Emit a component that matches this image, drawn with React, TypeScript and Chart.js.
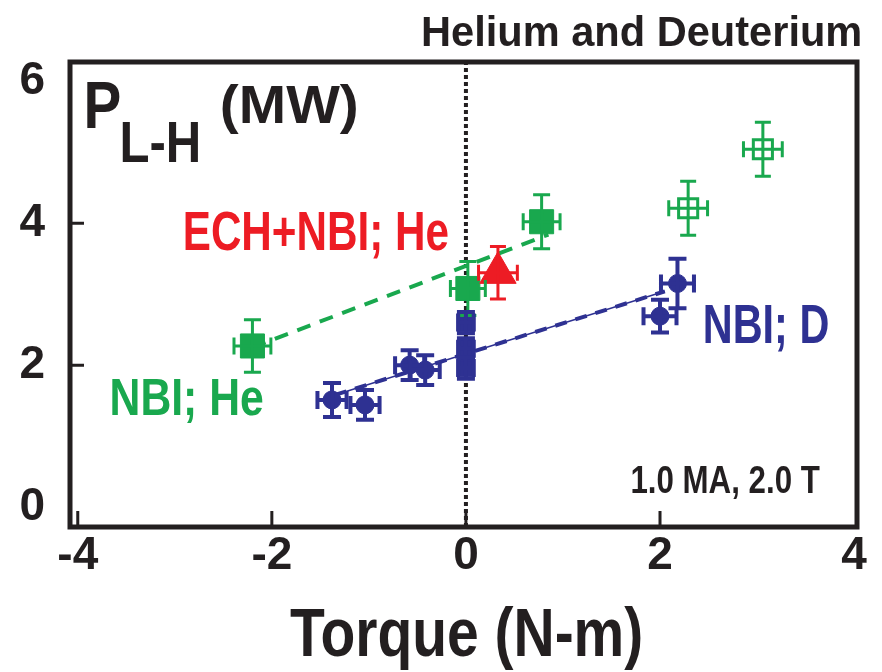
import React, { useEffect, useRef } from "react";
import { Chart, registerables } from "chart.js";

Chart.register(...registerables);

// ---- data ----
const heTorque = [-2.2, 0.02, 0.78];
const hePower = [2.27, 3.08, 4.02];
const heTorqueErr = [0.19, 0.18, 0.19];
const hePowerErr = [0.37, 0.38, 0.38];

const heOpenTorque = [2.29, 3.06];
const heOpenPower = [4.21, 5.04];
const heOpenTorqueErr = [0.2, 0.2];
const heOpenPowerErr = [0.38, 0.38];

const echTorque = [0.33];
const echPower = [3.3];
const echTorqueErr = [0.2];
const echPowerErr = [0.37];

const dTorque = [-1.38, -1.04, -0.58, -0.42, 0, 0, 0, 2.0, 2.18];
const dPower = [1.51, 1.44, 2.0, 1.93, 2.6, 2.23, 1.96, 2.69, 3.15];
const dTorqueErr = [0.15, 0.15, 0.15, 0.15, 0.08, 0.08, 0.08, 0.17, 0.17];
const dPowerErr = [0.24, 0.21, 0.21, 0.21, 0.15, 0.15, 0.15, 0.23, 0.35];

const heFitTorque = [-2.2, 0.85];
const heFitPower = [2.25, 3.84];
const dFitTorque = [-1.35, 2.05];
const dFitPower = [1.58, 3.04];

const xTicks = [-4, -2, 0, 2, 4];
const yTicks = [0, 2, 4, 6];
const X_MIN = -4.08;
const X_MAX = 4.03;
const Y_MIN = -0.28;
const Y_MAX = 6.27;

const GREEN = "#19a84e";
const BLUE = "#2e3192";
const RED = "#ed1c24";
const BLACK = "#231f20";
const FONT = '"Liberation Sans", Arial, sans-serif';

const pts = (xs: number[], ys: number[]) => xs.map((x, i) => ({ x, y: ys[i] }));

function drawInk(
  ctx: CanvasRenderingContext2D,
  text: string,
  size: number,
  color: string,
  left: number,
  baseline: number,
  inkWidth: number
) {
  ctx.save();
  ctx.font = `bold ${size}px ${FONT}`;
  ctx.textAlign = "left";
  ctx.textBaseline = "alphabetic";
  const m = ctx.measureText(text);
  const w = m.actualBoundingBoxLeft + m.actualBoundingBoxRight;
  const sx = inkWidth / w;
  ctx.translate(left, baseline);
  ctx.scale(sx, 1);
  ctx.fillStyle = color;
  ctx.fillText(text, m.actualBoundingBoxLeft, 0);
  ctx.restore();
}

const errorBarPlugin = {
  id: "errorBars",
  afterDatasetsDraw(chart: any) {
    const ctx = chart.ctx;
    const xs = chart.scales.x;
    const ys = chart.scales.y;
    chart.data.datasets.forEach((ds: any) => {
      if (!ds.errX) return;
      ctx.save();
      ctx.strokeStyle = ds.errColor;
      ctx.lineWidth = ds.errWidth;
      const cap = ds.errCap / 2;
      ds.data.forEach((p: any, i: number) => {
        const cx = xs.getPixelForValue(p.x);
        const cy = ys.getPixelForValue(p.y);
        const x0 = xs.getPixelForValue(p.x - ds.errX[i]);
        const x1 = xs.getPixelForValue(p.x + ds.errX[i]);
        const y0 = ys.getPixelForValue(p.y - ds.errY[i]);
        const y1 = ys.getPixelForValue(p.y + ds.errY[i]);
        ctx.beginPath();
        ctx.moveTo(x0, cy);
        ctx.lineTo(x1, cy);
        ctx.moveTo(cx, y0);
        ctx.lineTo(cx, y1);
        ctx.moveTo(x0, cy - cap);
        ctx.lineTo(x0, cy + cap);
        ctx.moveTo(x1, cy - cap);
        ctx.lineTo(x1, cy + cap);
        ctx.moveTo(cx - cap, y0);
        ctx.lineTo(cx + cap, y0);
        ctx.moveTo(cx - cap, y1);
        ctx.lineTo(cx + cap, y1);
        ctx.stroke();
      });
      ctx.restore();
    });
  },
};

const framePlugin = {
  id: "frame",
  afterDraw(chart: any) {
    const ctx = chart.ctx;
    const a = chart.chartArea;
    const xs = chart.scales.x;
    const ys = chart.scales.y;
    ctx.save();
    ctx.strokeStyle = BLACK;
    ctx.lineWidth = 3;
    ctx.beginPath();
    [2, 4].forEach((v) => {
      const py = ys.getPixelForValue(v);
      ctx.moveTo(a.left, py);
      ctx.lineTo(a.left + 14, py);
    });
    [-4, -2, 0, 2].forEach((v) => {
      const px = xs.getPixelForValue(v);
      ctx.moveTo(px, a.bottom);
      ctx.lineTo(px, a.bottom - 16);
    });
    ctx.stroke();
    ctx.lineWidth = 5;
    ctx.strokeRect(a.left, a.top, a.right - a.left, a.bottom - a.top);
    ctx.restore();

    drawInk(ctx, "Helium and Deuterium", 42, BLACK, 423, 46, 437);
    drawInk(ctx, "P", 67, BLACK, 87, 128, 33);
    drawInk(ctx, "L-H", 58, BLACK, 122, 162, 76);
    drawInk(ctx, "(MW)", 53, BLACK, 222, 123, 135);
    drawInk(ctx, "ECH+NBI; He", 56, RED, 185, 250, 263);
    drawInk(ctx, "NBI; He", 52, GREEN, 112, 415, 151);
    drawInk(ctx, "NBI; D", 55, BLUE, 705, 343, 123);
    drawInk(ctx, "1.0 MA, 2.0 T", 39, BLACK, 632, 493, 188);
    drawInk(ctx, "Torque (N-m)", 68, BLACK, 290, 656, 351);
  },
};

export default function App() {
  const ref = useRef<HTMLCanvasElement>(null);

  useEffect(() => {
    if (!ref.current) return;
    const chart = new Chart(ref.current, {
      type: "scatter",
      data: {
        datasets: [
          {
            label: "ECH+NBI; He",
            data: pts(echTorque, echPower),
            pointStyle: "triangle",
            pointRadius: 21,
            backgroundColor: RED,
            borderColor: RED,
            borderWidth: 1,
            errX: echTorqueErr,
            errY: echPowerErr,
            errColor: RED,
            errWidth: 3,
            errCap: 16,
          } as any,
          {
            label: "NBI; He",
            data: pts(heTorque, hePower),
            pointStyle: "rect",
            pointRadius: 17,
            backgroundColor: GREEN,
            borderColor: GREEN,
            borderWidth: 1,
            errX: heTorqueErr,
            errY: hePowerErr,
            errColor: GREEN,
            errWidth: 3,
            errCap: 17,
          } as any,
          {
            label: "NBI; He (open)",
            data: pts(heOpenTorque, heOpenPower),
            pointStyle: "rect",
            pointRadius: 13.5,
            backgroundColor: "rgba(255,255,255,0)",
            borderColor: GREEN,
            borderWidth: 3,
            errX: heOpenTorqueErr,
            errY: heOpenPowerErr,
            errColor: GREEN,
            errWidth: 3,
            errCap: 16,
          } as any,
          {
            label: "NBI; D",
            data: pts(dTorque, dPower),
            pointStyle: dTorque.map((t) => (t === 0 ? "rect" : "circle")),
            pointRadius: dTorque.map((t) => (t === 0 ? 12.5 : 9)),
            backgroundColor: BLUE,
            borderColor: BLUE,
            borderWidth: 1,
            errX: dTorqueErr,
            errY: dPowerErr,
            errColor: BLUE,
            errWidth: 4,
            errCap: 18,
          } as any,
          {
            label: "He fit",
            data: pts(heFitTorque, heFitPower),
            showLine: true,
            pointRadius: 0,
            borderColor: GREEN,
            borderWidth: 4,
            borderDash: [14, 10],
          },
          {
            label: "D fit dashes",
            data: pts(dFitTorque, dFitPower),
            showLine: true,
            pointRadius: 0,
            borderColor: BLUE,
            borderWidth: 4,
            borderDash: [12, 9],
          },
          {
            label: "D fit",
            data: pts(dFitTorque, dFitPower),
            showLine: true,
            pointRadius: 0,
            borderColor: BLUE,
            borderWidth: 1.5,
          },
          {
            label: "zero torque",
            data: [
              { x: 0, y: Y_MIN },
              { x: 0, y: Y_MAX },
            ],
            showLine: true,
            pointRadius: 0,
            borderColor: BLACK,
            borderWidth: 4,
            borderDash: [4, 3],
          },
        ],
      },
      options: {
        animation: false,
        responsive: false,
        events: [],
        layout: { padding: { top: 62, right: 25, left: 0, bottom: 0 } },
        plugins: {
          legend: { display: false },
          tooltip: { enabled: false },
        },
        scales: {
          x: {
            type: "linear",
            min: X_MIN,
            max: X_MAX,
            grid: { display: false, drawTicks: false },
            border: { display: false },
            afterBuildTicks: (s: any) => {
              s.ticks = xTicks.map((v) => ({ value: v }));
            },
            afterFit: (s: any) => {
              s.height = 145;
            },
            ticks: {
              padding: 2,
              color: BLACK,
              font: { family: FONT, size: 46, weight: "bold" },
              callback: (v: any) => String(v),
            },
          },
          y: {
            type: "linear",
            min: Y_MIN,
            max: Y_MAX,
            grid: { display: false, drawTicks: false },
            border: { display: false },
            afterBuildTicks: (s: any) => {
              s.ticks = yTicks.map((v) => ({ value: v }));
            },
            afterFit: (s: any) => {
              s.width = 70;
            },
            ticks: {
              padding: 25,
              color: BLACK,
              font: { family: FONT, size: 46, weight: "bold" },
              callback: (v: any) => String(v),
            },
          },
        },
      },
      plugins: [errorBarPlugin, framePlugin],
    });
    return () => chart.destroy();
  }, []);

  return (
    <div style={{ position: "fixed", left: 0, top: 0, width: 882, height: 672, background: "#fff" }}>
      <canvas ref={ref} width={882} height={672} />
    </div>
  );
}
